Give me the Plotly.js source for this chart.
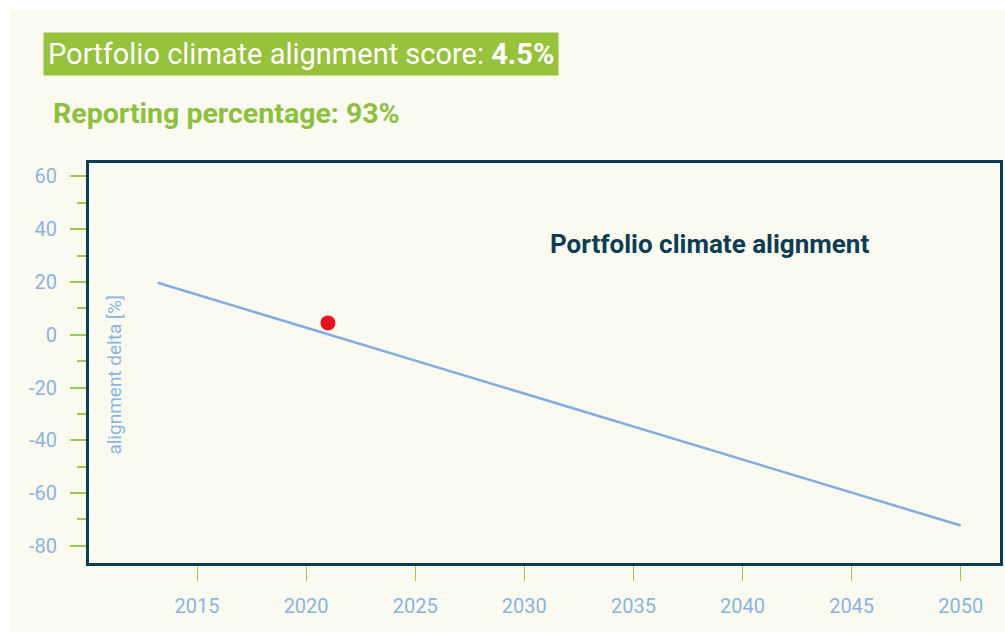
<!DOCTYPE html>
<html>
<head>
<meta charset="utf-8">
<script src="https://cdn.plot.ly/plotly-3.0.1.min.js"></script>
<style>
  html, body { margin: 0; padding: 0; background: #ffffff; }
  #chart { position: absolute; left: 10px; top: 10px; width: 995px; height: 622px; }
</style>
</head>
<body>
<div id="chart"></div>
<script>
// Data
const pathwayYears = [2013.2, 2050];
const pathwayDelta = [19.7, -72.3];
const portfolioYear = [2021];
const portfolioScore = [4.5];
const xTickYears = [2015, 2020, 2025, 2030, 2035, 2040, 2045, 2050];
const yTickValues = [-80, -60, -40, -20, 0, 20, 40, 60];
const yMinorValues = [-70, -50, -30, -10, 10, 30, 50];
const scoreText = 'Portfolio climate alignment score: <b>4.5%</b>';
const reportingText = '<b>Reporting percentage: 93%</b>';
const chartLabel = '<b>Portfolio climate alignment</b>';
const yTitle = 'alignment delta [%]';

const cream = '#FAFAF0';
const green = '#96C23C';
const tickGreen = '#9BCB4B';
const blue = '#8AB4E0';
const navy = '#0D3D55';
const fontFam = 'Roboto, "DejaVu Sans", sans-serif';

const traces = [
  {
    x: pathwayYears, y: pathwayDelta, type: 'scatter', mode: 'lines',
    line: {color: '#7FAEE0', width: 2.5}, hoverinfo: 'skip', showlegend: false
  },
  {
    x: portfolioYear, y: portfolioScore, type: 'scatter', mode: 'markers',
    marker: {color: '#E3141F', size: 15}, showlegend: false
  }
];

const layout = {
  width: 995, height: 622,
  margin: {l: 79, r: 5, t: 153, b: 69},
  paper_bgcolor: cream, plot_bgcolor: cream,
  font: {family: fontFam, color: blue},
  showlegend: false,
  xaxis: {
    range: [2010.05, 2051.8],
    tickvals: xTickYears, ticktext: xTickYears.map(String),
    ticks: 'outside', ticklen: 15, tickwidth: 1, tickcolor: tickGreen,
    ticklabelstandoff: 8,
    tickfont: {size: 20, color: blue, family: fontFam},
    showgrid: false, zeroline: false,
    showline: true, linewidth: 3, linecolor: navy, mirror: true
  },
  yaxis: {
    range: [-86.5, 65.1],
    tickvals: yTickValues, ticktext: yTickValues.map(String),
    ticks: 'outside', ticklen: 16, tickwidth: 2, tickcolor: tickGreen,
    ticklabelstandoff: 9,
    tickfont: {size: 20, color: blue, family: fontFam},
    minor: {tickvals: yMinorValues, ticks: 'outside', ticklen: 9, tickwidth: 2, tickcolor: tickGreen},
    showgrid: false, zeroline: false,
    showline: true, linewidth: 3, linecolor: navy, mirror: true
  },
  annotations: [
    {
      xref: 'paper', yref: 'paper', x: -0.0505, y: 1.273,
      xanchor: 'left', yanchor: 'middle', showarrow: false,
      text: scoreText, bgcolor: green, borderpad: 4,
      font: {size: 29, color: '#ffffff', family: fontFam}
    },
    {
      xref: 'paper', yref: 'paper', x: -0.0415, y: 1.125,
      xanchor: 'left', yanchor: 'middle', showarrow: false,
      text: reportingText,
      font: {size: 28.5, color: '#8DC03E', family: fontFam}
    },
    {
      xref: 'paper', yref: 'paper', x: 0.681, y: 0.797,
      xanchor: 'center', yanchor: 'middle', showarrow: false,
      text: chartLabel,
      font: {size: 26, color: navy, family: fontFam}
    },
    {
      xref: 'paper', yref: 'paper', x: 0.027, y: 0.47,
      xanchor: 'center', yanchor: 'middle', showarrow: false,
      textangle: -90, text: yTitle,
      font: {size: 19, color: blue, family: fontFam}
    }
  ]
};

Plotly.newPlot('chart', traces, layout, {displayModeBar: false, staticPlot: true});
</script>
</body>
</html>
